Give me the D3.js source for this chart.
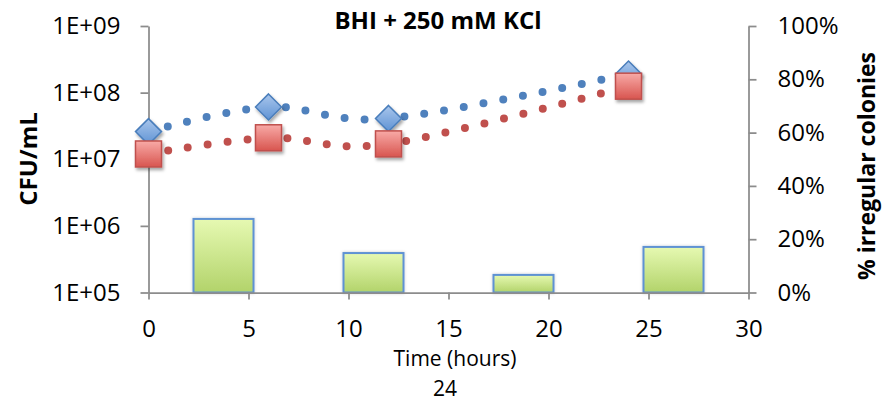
<!DOCTYPE html>
<html>
<head>
<meta charset="utf-8">
<script src="https://cdn.jsdelivr.net/npm/d3@7"></script>
<style>
  html, body { margin: 0; padding: 0; background: #ffffff; }
  svg { display: block; }
  text { font-family: "Open Sans", Lato, sans-serif; fill: #000; }
</style>
</head>
<body>
<svg id="chart" width="891" height="402"></svg>
<script>
// Sampling times (hours) for the viable counts
const times = [0, 6, 12, 24];
// CFU/mL, two count series
const cfuBlue = [2.6e7, 6.1e7, 4.1e7, 1.9e8];
const cfuRed = [1.2e7, 2.1e7, 1.7e7, 1.25e8];
// Percent irregular colonies, one bar per sampling point
const barCategories = ["0 h", "6 h", "12 h", "24 h"];
const irregularPct = [27.6, 14.8, 6.6, 17.1];
// Axis ticks and labels
const xTicks = [0, 5, 10, 15, 20, 25, 30];
const leftTicks = [1e5, 1e6, 1e7, 1e8, 1e9];
const leftTickLabels = ["1E+05", "1E+06", "1E+07", "1E+08", "1E+09"];
const rightTicks = [0, 20, 40, 60, 80, 100];
const rightTickLabels = ["0%", "20%", "40%", "60%", "80%", "100%"];

const svg = d3.select("#chart");
const L = 148.5, R = 748.5, T = 26, B = 292.5;
const axisColor = "#8c8c8c";

const x = d3.scaleLinear().domain([0, 30]).range([L, R]);
const y = d3.scaleLog().domain([1e5, 1e9]).range([B, T]);
const yR = d3.scaleLinear().domain([0, 100]).range([B, T]);
const xBand = d3.scaleBand().domain(barCategories).range([L, R])
  .paddingInner(0.6).paddingOuter(0.3);

// Gradients and shadows
const defs = svg.append("defs");
function vGrad(id, top, bottom) {
  const g = defs.append("linearGradient").attr("id", id)
    .attr("x1", 0).attr("y1", 0).attr("x2", 0).attr("y2", 1);
  g.append("stop").attr("offset", "0%").attr("stop-color", top);
  g.append("stop").attr("offset", "100%").attr("stop-color", bottom);
}
vGrad("barFill", "#e6f9b2", "#b2d36a");
vGrad("diamondFill", "#a9c6ec", "#5f93d4");
vGrad("squareFill", "#f8aaa7", "#d8554f");
const sh = defs.append("filter").attr("id", "shadow")
  .attr("x", "-30%").attr("y", "-30%").attr("width", "170%").attr("height", "170%");
sh.append("feDropShadow").attr("dx", 1.5).attr("dy", 2.5)
  .attr("stdDeviation", 1.8).attr("flood-color", "#000").attr("flood-opacity", 0.35);
const shBar = defs.append("filter").attr("id", "barShadow")
  .attr("x", "-20%").attr("y", "-20%").attr("width", "140%").attr("height", "140%");
shBar.append("feDropShadow").attr("dx", 0).attr("dy", 0)
  .attr("stdDeviation", 1.5).attr("flood-color", "#000").attr("flood-opacity", 0.2);

// Bars (secondary axis)
svg.append("g").selectAll("rect")
  .data(irregularPct)
  .join("rect")
  .attr("x", (d, i) => xBand(barCategories[i]))
  .attr("width", xBand.bandwidth())
  .attr("y", d => yR(d))
  .attr("height", d => yR(0) - yR(d))
  .attr("fill", "url(#barFill)")
  .attr("stroke", "#5e92d3")
  .attr("stroke-width", 2)
  .attr("filter", "url(#barShadow)");

// Axes
function styleAxis(g) {
  g.selectAll("path.domain").attr("stroke", axisColor).attr("stroke-width", 1.75);
  g.selectAll(".tick line").attr("stroke", axisColor).attr("stroke-width", 1.75);
  g.selectAll("text").attr("font-size", 24).attr("font-family", "'Open Sans', Lato, sans-serif").attr("fill", "#000");
}
svg.append("g").attr("transform", `translate(${L},0)`)
  .call(d3.axisLeft(y).tickValues(leftTicks)
    .tickFormat((d, i) => leftTickLabels[i]).tickSize(8).tickSizeOuter(0).tickPadding(20))
  .call(styleAxis);
svg.append("g").attr("transform", `translate(${R},0)`)
  .call(d3.axisRight(yR).tickValues(rightTicks)
    .tickFormat((d, i) => rightTickLabels[i]).tickSize(8).tickSizeOuter(0).tickPadding(21))
  .call(styleAxis);
svg.append("g").attr("transform", `translate(0,${B})`)
  .call(d3.axisBottom(x).tickValues(xTicks).tickSize(7).tickSizeOuter(0).tickPadding(20))
  .call(styleAxis);

// Smoothed dotted connectors
const line = d3.line().curve(d3.curveCardinal.tension(0));
function dotted(values, color) {
  svg.append("path")
    .attr("d", line(times.map((t, i) => [x(t), y(values[i])])))
    .attr("fill", "none")
    .attr("stroke", color)
    .attr("stroke-width", 8)
    .attr("stroke-linecap", "round")
    .attr("stroke-dasharray", "0 20");
}
dotted(cfuBlue, "#4f81bd");
dotted(cfuRed, "#c0504d");

// Markers
const dHalf = 13;
svg.append("g").selectAll("path")
  .data(cfuBlue)
  .join("path")
  .attr("d", (d, i) => {
    const cx = x(times[i]), cy = y(d);
    return `M${cx},${cy - dHalf}L${cx + dHalf},${cy}L${cx},${cy + dHalf}L${cx - dHalf},${cy}Z`;
  })
  .attr("fill", "url(#diamondFill)")
  .attr("stroke", "#4a7ebb")
  .attr("stroke-width", 1.5)
  .attr("filter", "url(#shadow)");

const sHalf = 13;
svg.append("g").selectAll("rect")
  .data(cfuRed)
  .join("rect")
  .attr("x", (d, i) => x(times[i]) - sHalf)
  .attr("y", d => y(d) - sHalf)
  .attr("width", sHalf * 2)
  .attr("height", sHalf * 2)
  .attr("fill", "url(#squareFill)")
  .attr("stroke", "#c0504d")
  .attr("stroke-width", 1.5)
  .attr("filter", "url(#shadow)");

// Titles
svg.append("text")
  .attr("x", 438).attr("y", 29)
  .attr("text-anchor", "middle")
  .attr("font-size", 24).attr("font-weight", 700)
  .text("BHI + 250 mM KCl");

svg.append("text")
  .attr("transform", "translate(37,159) rotate(-90)")
  .attr("text-anchor", "middle")
  .attr("font-size", 24).attr("font-weight", 700)
  .text("CFU/mL");

svg.append("text")
  .attr("transform", "translate(875,166) rotate(-90)")
  .attr("text-anchor", "middle")
  .attr("font-size", 23).attr("font-weight", 700)
  .text("% irregular colonies");

svg.append("text")
  .attr("x", 455).attr("y", 366)
  .attr("text-anchor", "middle")
  .attr("font-size", 21)
  .text("Time (hours)");

svg.append("text")
  .attr("x", 445).attr("y", 395.5)
  .attr("text-anchor", "middle")
  .attr("font-size", 21)
  .text("24");
</script>
</body>
</html>
